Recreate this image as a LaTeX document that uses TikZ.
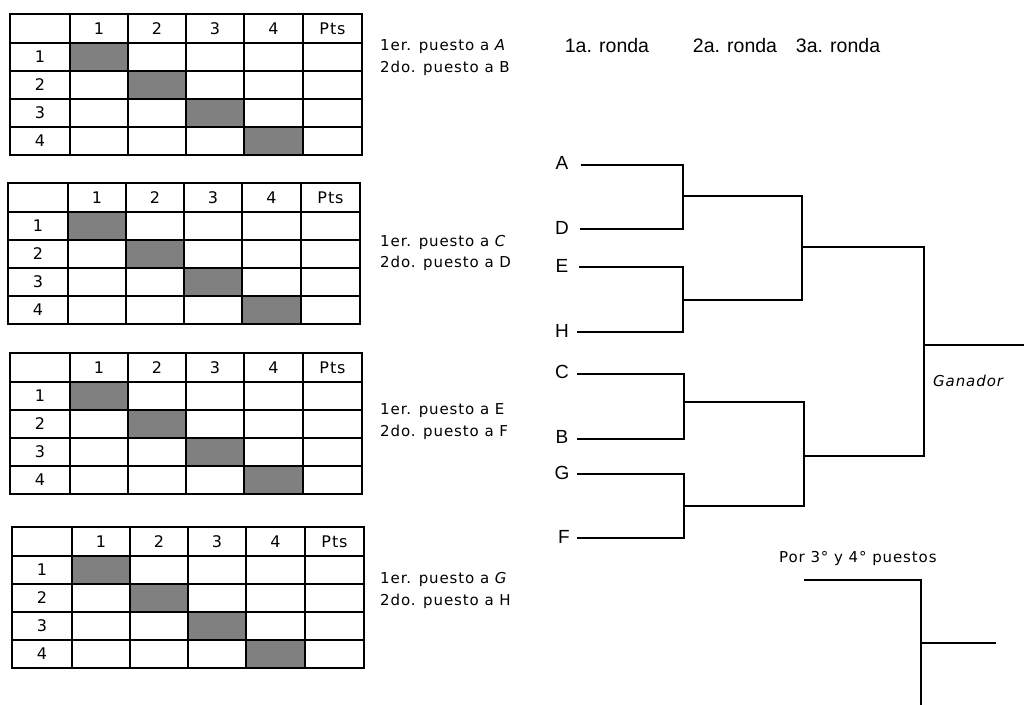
\documentclass[tikz,border=0pt]{standalone}
\usepackage{fontspec}
\setmainfont{DejaVu Sans}
\newfontfamily\genfont[LetterSpace=6]{DejaVu Sans}
\newfontfamily\arfont{Liberation Sans}
\newcommand\rrtab[5]{%
  \begin{scope}[shift={(#2,#3)}]
    \foreach \xa/\xb/\ya/\yb in {60/118/29/57,118/176/57/85,176/234/85/113,234/293/113/141}
      \fill[shadecell] (\xa,\ya) rectangle (\xb,\yb);
    \foreach \x in {0,60,118,176,234,293,352}
      \draw[grid] (\x,0) -- (\x,141);
    \foreach \y in {0,29,57,85,113,141}
      \draw[grid] (0,\y) -- (352,\y);
    \foreach \c/\x in {1/89,2/147,3/205,4/263.5}
      \node[cell] (#1h\c) at (\x,15) {\c};
    \node[cell] (#1hp) at (322.5,15) {Pts};
    \foreach \r/\y in {1/43,2/71,3/99,4/127}
      \node[cell] (#1r\r) at (30,\y) {\r};
  \end{scope}
  \node[lab] (#1la) at (#4) {\csname lbla#1\endcsname};
  \node[lab] (#1lb) at (#5) {\csname lblb#1\endcsname};
}
\newcommand\lblaT{1er. puesto a \textit{A}}
\newcommand\lblbT{2do. puesto a B}
\newcommand\lblaU{1er. puesto a \textit{C}}
\newcommand\lblbU{2do. puesto a D}
\newcommand\lblaV{1er. puesto a E}
\newcommand\lblbV{2do. puesto a F}
\newcommand\lblaW{1er. puesto a \textit{G}}
\newcommand\lblbW{2do. puesto a H}
\begin{document}
\begin{tikzpicture}[x=1pt,y=-1pt,
  grid/.style={line width=1.6pt,line cap=rect},
  shadecell/.style={fill=black!50},
  cell/.style={font=\genfont\fontsize{16}{18}\selectfont,inner sep=0pt},
  lab/.style={font=\genfont\fontsize{15}{17}\selectfont,anchor=west,inner sep=0pt},
  team/.style={font=\arfont\fontsize{19}{21}\selectfont,inner sep=0pt},
  ronda/.style={font=\arfont\fontsize{19.5}{21}\selectfont,inner sep=0pt},
  bk/.style={line width=1.5pt,line cap=rect}]
\useasboundingbox (0,0) rectangle (1024,704);

\rrtab{T}{10}{14}{380,47}{380,68}
\rrtab{U}{8}{183}{380,242}{380,263}
\rrtab{V}{10}{353}{380,411}{380,432}
\rrtab{W}{12}{527}{380,579}{380,601}

% round headings
\node[ronda] (r1) at (607,46) {1a. ronda};
\node[ronda] (r2) at (735,46) {2a. ronda};
\node[ronda] (r3) at (838,46) {3a. ronda};

% team letters
\node[team] (A) at (562,163) {A};
\node[team] (D) at (562,228) {D};
\node[team] (E) at (562,266) {E};
\node[team] (H) at (562,331) {H};
\node[team] (C) at (562,372) {C};
\node[team] (B) at (562,437) {B};
\node[team] (G) at (562,473) {G};
\node[team] (F) at (564,537) {F};

% line starts
\coordinate (sA) at (582,165);
\coordinate (sD) at (581,229);
\coordinate (sE) at (580,267);
\coordinate (sH) at (578,332);
\coordinate (sC) at (578,374);
\coordinate (sB) at (578,439);
\coordinate (sG) at (578,474);
\coordinate (sF) at (578,538);
% joints
\coordinate (q1) at (683,196);
\coordinate (q2) at (683,300);
\coordinate (q3) at (684,402);
\coordinate (q4) at (684,506);
\coordinate (s1) at (802,247);
\coordinate (s2) at (804,456);
\coordinate (w) at (924,345);
\coordinate (wend) at (1024,345);

\draw[bk] (sA) -| (q1);
\draw[bk] (sD) -| (q1);
\draw[bk] (sE) -| (q2);
\draw[bk] (sH) -| (q2);
\draw[bk] (sC) -| (q3);
\draw[bk] (sB) -| (q3);
\draw[bk] (sG) -| (q4);
\draw[bk] (sF) -| (q4);
\draw[bk] (q1) -| (s1);
\draw[bk] (q2) -| (s1);
\draw[bk] (q3) -| (s2);
\draw[bk] (q4) -| (s2);
\draw[bk] (s1) -| (w);
\draw[bk] (s2) -| (w);
\draw[bk] (w) -- (wend);

\node[lab] (gan) at (933,381) {\textit{Ganador}};

% third place
\node[lab] (por) at (779,558) {Por 3° y 4° puestos};
\coordinate (p1) at (805,580);
\coordinate (p2) at (921,704);
\coordinate (pm) at (921,643);
\coordinate (pend) at (995,643);
\draw[bk] (p1) -| (p2);
\draw[bk] (pm) -- (pend);
\end{tikzpicture}
\end{document}
